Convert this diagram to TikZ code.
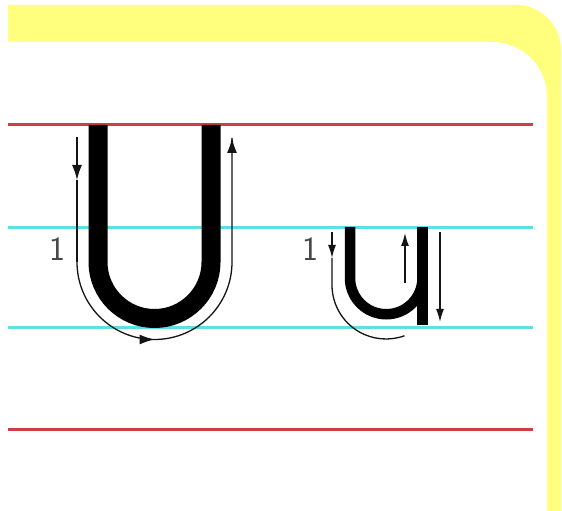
\documentclass[tikz,border=0pt]{standalone}
\usepackage{tikz}
\usetikzlibrary{arrows.meta}
\definecolor{hwedge}{RGB}{20,20,20}
\definecolor{hwred}{RGB}{205,62,72}
\definecolor{hwcyan}{RGB}{92,224,228}
\definecolor{hwyel}{RGB}{255,255,125}
\definecolor{hwnum}{RGB}{70,70,70}
\tikzset{
  redrule/.style={draw=hwred, line width=3pt},
  cyanrule/.style={draw=hwcyan, line width=3pt},
  bigstroke/.style={draw=black, line width=19pt},
  smallstroke/.style={draw=black, line width=10.5pt},
  guide/.style={draw=hwedge, line width=1.3pt},
  arr/.style={guide, -{Latex[length=15pt,width=10pt]}},
  sarr/.style={guide, -{Latex[length=13pt,width=8pt]}},
  num/.style={font=\fontsize{34}{34}\selectfont\sffamily, text=hwnum, inner sep=0pt}
}
\begin{document}
\begin{tikzpicture}[x=1pt,y=1pt]
  \useasboundingbox (0,0) rectangle (562,511);
  \fill[white] (0,0) rectangle (562,511);
  % yellow frame
  \fill[hwyel] (8,0) -- (8,506) -- (516,506) arc[start angle=90,end angle=0,radius=45] -- (561,0) -- cycle;
  \fill[white] (8,0) -- (8,469) -- (492,469) arc[start angle=90,end angle=0,radius=55] -- (547,0) -- cycle;
  % writing lines
  \foreach \y/\s in {386/redrule,283/cyanrule,183/cyanrule,81/redrule}
    \draw[\s] (8,\y) -- (533,\y);
  % capital U
  \draw[bigstroke] (98,386) -- (98,249) arc[start angle=180,end angle=360,radius=56.5] -- (211,386);
  \coordinate (UinTop) at (77,374);
  \coordinate (UinMid) at (77,331);
  \coordinate (UinLow) at (77,249);
  \coordinate (UbotTip) at (154.5,171.5);
  \coordinate (UoutTop) at (232,373);
  \draw[arr] (UinTop) -- (UinMid);
  \draw[guide] (UinMid) -- (UinLow);
  \draw[guide] (UinLow) arc[start angle=180,end angle=360,radius=77.5] -- (UoutTop);
  \draw[arr] ([xshift=-1pt]UbotTip) -- (UbotTip);
  \draw[arr] ([yshift=-2pt]UoutTop) -- (UoutTop);
  \node[num] (bignum) at (57,262) {1};
  % small u
  \draw[smallstroke] (350,284) -- (350,233) arc[start angle=180,end angle=360,radius=36.25];
  \draw[smallstroke] (422.5,284) -- (422.5,186);
  \coordinate (uinTop) at (332,279);
  \coordinate (uinMid) at (332,253);
  \coordinate (uinLow) at (332,226);
  \coordinate (umidLow) at (405,228);
  \coordinate (umidTop) at (405,278);
  \coordinate (urTop) at (440,279);
  \coordinate (urLow) at (440,189);
  \draw[sarr] (uinTop) -- (uinMid);
  \draw[guide] (uinMid) -- (uinLow) arc[start angle=180,end angle=290,radius=54];
  \draw[sarr] (umidLow) -- (umidTop);
  \draw[sarr] (urTop) -- (urLow);
  \node[num] (smallnum) at (310,262) {1};
\end{tikzpicture}
\end{document}
